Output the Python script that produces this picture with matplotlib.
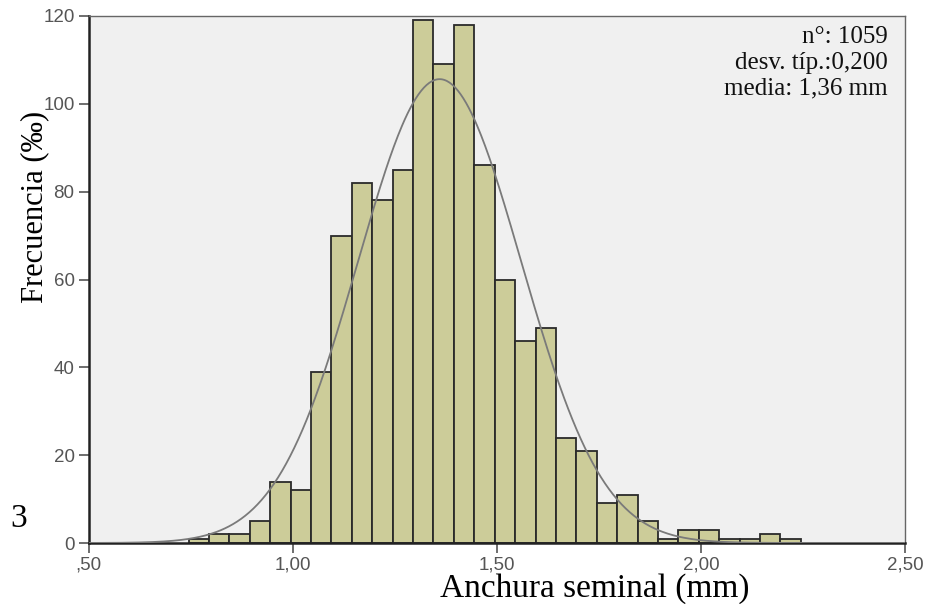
import numpy as np
import matplotlib
matplotlib.use("Agg")
import matplotlib.pyplot as plt

# ---- data ----
counts = [1, 2, 2, 5, 14, 12,
          39, 70, 82, 78, 85, 119, 109, 118, 86, 60, 46, 49,
          24, 21, 9, 11, 5, 1, 3, 3, 1, 1, 2, 1]
bin_start = 0.745
bin_width = 0.05
n_total = 1059
mean_val = 1.36
sd_val = 0.200
xticks = [0.5, 1.0, 1.5, 2.0, 2.5]
xtick_labels = [",50", "1,00", "1,50", "2,00", "2,50"]
yticks = [0, 20, 40, 60, 80, 100, 120]
stats_lines = ["n°: 1059", "desv. típ.:0,200", "media: 1,36 mm"]

W, H = 927, 604
fig = plt.figure(figsize=(W / 100, H / 100), dpi=100)
fig.patch.set_facecolor("white")
ax = fig.add_axes([88.5 / W, 1 - 543 / H, (905 - 88.5) / W, (543 - 16) / H])
ax.set_facecolor("#f0f0f0")

edges = bin_start + bin_width * np.arange(len(counts))
ax.bar(edges, counts, width=bin_width, align="edge", color="#cccc99",
       edgecolor="#2a2a2a", linewidth=1.3, zorder=2)

xs = np.linspace(0.5, 2.5, 600)
ys = n_total * bin_width / (sd_val * np.sqrt(2 * np.pi)) * np.exp(-0.5 * ((xs - mean_val) / sd_val) ** 2)
ax.plot(xs, ys, color="#7a7a7a", linewidth=1.3, zorder=3)

ax.set_xlim(0.5, 2.5)
ax.set_ylim(0, 120)
ax.set_xticks(xticks)
ax.set_xticklabels(xtick_labels)
ax.set_yticks(yticks)
for lab in ax.get_xticklabels() + ax.get_yticklabels():
    lab.set_fontfamily("Liberation Sans")
    lab.set_fontsize(13.5)
    lab.set_color("#555555")
ax.tick_params(axis="both", direction="out", length=7.5, width=1.2, color="#555555", pad=2.5)

for s in ["left", "bottom"]:
    ax.spines[s].set_color("#222222")
    ax.spines[s].set_linewidth(1.8)
for s in ["top", "right"]:
    ax.spines[s].set_color("#666666")
    ax.spines[s].set_linewidth(1.0)

serif = "Liberation Serif"
line_y = [37, 63, 88]
for txt, yy in zip(stats_lines, line_y):
    fig.text(888 / W, 1 - yy / H, txt, ha="right", va="center",
             fontfamily=serif, fontsize=18, color="#111111")

fig.text(595 / W, 1 - 597 / H, "Anchura seminal (mm)", ha="center", va="baseline",
         fontfamily=serif, fontsize=24, color="black")
fig.text(42 / W, 1 - 207 / H, "Frecuencia (‰)", ha="center", va="baseline",
         rotation=90, rotation_mode="anchor",
         fontfamily=serif, fontsize=22, color="black")
fig.text(10 / W, 1 - 527 / H, "3", ha="left", va="baseline",
         fontfamily=serif, fontsize=24, color="black")

fig.savefig("out.png", dpi=100)
